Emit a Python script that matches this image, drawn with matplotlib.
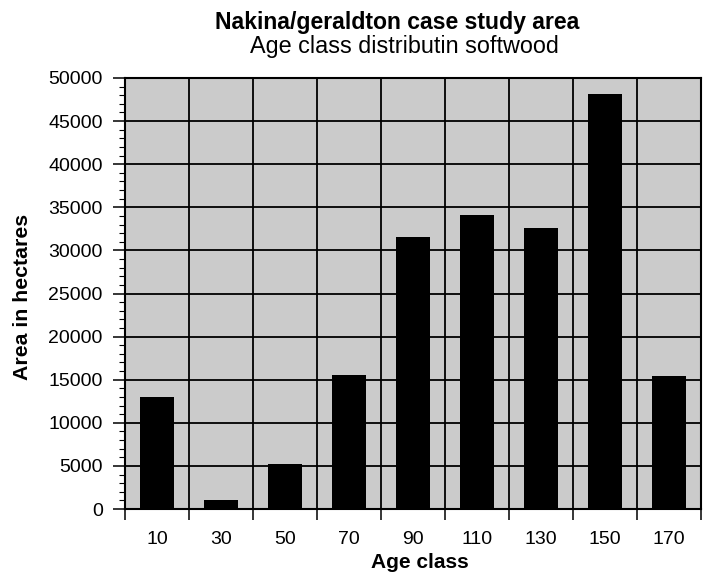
import matplotlib
matplotlib.use("Agg")
import matplotlib.pyplot as plt
from matplotlib.ticker import MultipleLocator, FixedLocator
import numpy as np

plt.rcParams['font.family'] = ['Liberation Sans', 'DejaVu Sans']
plt.rcParams['hatch.color'] = '#9a9a9a'
plt.rcParams['hatch.linewidth'] = 0.8

# Age class distribution (softwood), area in hectares
age_classes = ["10", "30", "50", "70", "90", "110", "130", "150", "170"]
area_ha = [13000, 1100, 5200, 15600, 31600, 34150, 32600, 48150, 15400]

title_line1 = "Nakina/geraldton case study area"
title_line2 = "Age class distributin softwood"
x_label = "Age class"
y_label = "Area in hectares"

W, H = 709, 573
fig = plt.figure(figsize=(W / 100, H / 100), dpi=100)
fig.patch.set_facecolor("white")

left, right, bottom, top = 125, 701, 509, 78
ax = fig.add_axes([left / W, 1 - bottom / H, (right - left) / W, (bottom - top) / H])
# stippled grey plotting area
ax.set_facecolor("#cbcbcb")
ax.patch.set_hatch("....")
ax.set_axisbelow(True)

x = np.arange(len(age_classes))
ax.bar(x, area_ha, width=0.52, color="black", zorder=2)

ax.set_xlim(-0.5, len(age_classes) - 0.5)
ax.set_ylim(0, 50000)

# y axis: majors every 5000, minors every 1000
ax.yaxis.set_major_locator(MultipleLocator(5000))
ax.yaxis.set_minor_locator(MultipleLocator(1000))
ax.tick_params(axis="y", which="major", direction="out", length=8.6, width=1.1,
               labelsize=14, pad=7.5, colors="black")
ax.tick_params(axis="y", which="minor", direction="out", length=4.5, width=0.8)

# x axis: labels at category centres, tick marks at category boundaries
ax.set_xticks(x)
ax.set_xticklabels(age_classes)
ax.xaxis.set_minor_locator(FixedLocator(np.arange(-0.5, len(age_classes), 1.0)))
ax.tick_params(axis="x", which="major", length=0, labelsize=14, pad=16)
ax.tick_params(axis="x", which="minor", direction="out", length=7.7, width=1.1)

ax.grid(axis="y", which="major", color="black", linewidth=1.3)
ax.grid(axis="x", which="minor", color="black", linewidth=1.3)

for sp in ax.spines.values():
    sp.set_linewidth(1.5)
    sp.set_color("black")

fig.text(397 / W, 1 - 29 / H, title_line1, ha="center", va="baseline",
         fontsize=16.6, fontweight="bold")
fig.text(404 / W, 1 - 53 / H, title_line2, ha="center", va="baseline",
         fontsize=16.8)
fig.text(420 / W, 1 - 568 / H, x_label, ha="center", va="baseline",
         fontsize=15, fontweight="bold")
fig.text(23 / W, 1 - 297 / H, y_label, ha="center", va="center",
         rotation=90, fontsize=15.3, fontweight="bold")

fig.savefig("out.png", dpi=100)
